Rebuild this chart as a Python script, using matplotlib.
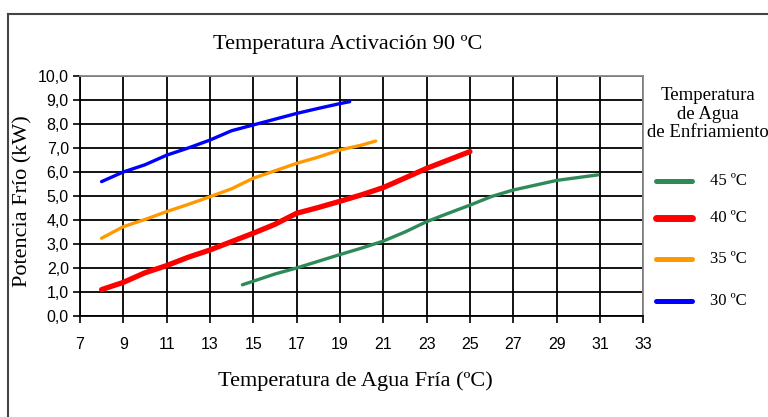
import matplotlib
matplotlib.use("Agg")
import matplotlib.pyplot as plt
from matplotlib.lines import Line2D

# ---- data ----
x_30 = [8, 9, 10, 11, 12, 13, 14, 15, 16, 17, 18, 19, 19.45]
y_30 = [5.6, 6.0, 6.3, 6.7, 7.0, 7.33, 7.72, 7.96, 8.2, 8.44, 8.65, 8.85, 8.93]

x_35 = [8, 9, 10, 11, 12, 13, 14, 15, 16, 17, 18, 19, 20, 20.65]
y_35 = [3.24, 3.72, 4.02, 4.35, 4.65, 4.97, 5.3, 5.74, 6.05, 6.36, 6.62, 6.92, 7.12, 7.29]

x_40 = [8, 9, 10, 11, 12, 13, 14, 15, 16, 17, 18, 19, 20, 21, 22, 23, 24, 25]
y_40 = [1.1, 1.4, 1.8, 2.1, 2.45, 2.75, 3.1, 3.45, 3.82, 4.28, 4.52, 4.78, 5.05, 5.35, 5.75, 6.15, 6.5, 6.85]

x_45 = [14.5, 15, 16, 17, 18, 19, 20, 21, 22, 23, 24, 25, 26, 27, 28, 29, 30, 30.9]
y_45 = [1.3, 1.45, 1.75, 2.0, 2.28, 2.56, 2.83, 3.12, 3.5, 3.93, 4.28, 4.62, 4.98, 5.25, 5.45, 5.65, 5.77, 5.88]

series_labels = ["45 ºC", "40 ºC", "35 ºC", "30 ºC"]
x_ticks = list(range(7, 34, 2))
y_ticks = [i for i in range(0, 11)]
y_tick_labels = [f"{v},0" for v in y_ticks]

title = "Temperatura Activación 90 ºC"
xlabel = "Temperatura de Agua Fría (ºC)"
ylabel = "Potencia Frío (kW)"
legend_title = "Temperatura\nde Agua\nde Enfriamiento"

# ---- figure ----
W, H = 768, 417
fig = plt.figure(figsize=(W / 100, H / 100), dpi=100)
fig.patch.set_facecolor("white")

ax = fig.add_axes([79.9 / W, 1 - 316 / H, (643.3 - 79.9) / W, (316 - 76) / H])
ax.set_xlim(7, 33)
ax.set_ylim(0, 10)

serif = "Liberation Serif"
sans = "Liberation Sans"

l45, = ax.plot(x_45, y_45, color="#2E8B57", lw=2.4, solid_capstyle="round", zorder=3)
l40, = ax.plot(x_40, y_40, color="#FF0000", lw=3.8, solid_capstyle="round", zorder=3)
l35, = ax.plot(x_35, y_35, color="#FF9900", lw=2.4, solid_capstyle="round", zorder=3)
l30, = ax.plot(x_30, y_30, color="#0000FF", lw=2.4, solid_capstyle="round", zorder=3)

ax.set_xticks(x_ticks)
ax.set_xticklabels([str(t) for t in x_ticks], fontfamily=sans, fontsize=11.5)
ax.set_yticks(y_ticks)
ax.set_yticklabels(y_tick_labels, fontfamily=sans, fontsize=11.5)
ax.tick_params(axis="both", direction="out", length=5, width=1.2, color="black")
ax.tick_params(axis="x", pad=10)
ax.tick_params(axis="y", pad=3)

ax.grid(True, color="black", linewidth=1.3, zorder=1)
ax.set_axisbelow(True)
for s in ["left", "bottom"]:
    ax.spines[s].set_color("black")
    ax.spines[s].set_linewidth(1.3)
for s in ["top", "right"]:
    ax.spines[s].set_color("#888888")
    ax.spines[s].set_linewidth(1.3)

fig.text(348 / W, 1 - 45 / H, title, ha="center", va="center", fontfamily=serif, fontsize=16)
fig.text(355 / W, 1 - 381 / H, xlabel, ha="center", va="center", fontfamily=serif, fontsize=16)
fig.text(23 / W, 1 - 201 / H, ylabel, ha="center", va="center", rotation=90, fontfamily=serif, fontsize=16)

# legend (drawn by hand to match layout)
fig.text(708 / W, 1 - 114 / H, legend_title, ha="center", va="center", multialignment="center",
         fontfamily=serif, fontsize=13.5, linespacing=1.12)
leg_y = [181, 218, 259, 301]
handle_lw = [3.6, 5.0, 3.6, 3.6]
for line, lab, yy, lw in zip([l45, l40, l35, l30], series_labels, leg_y, handle_lw):
    fig.add_artist(Line2D([656 / W, 692 / W], [1 - yy / H, 1 - yy / H], transform=fig.transFigure,
                          color=line.get_color(), lw=lw, solid_capstyle="round"))
    fig.text(710 / W, 1 - yy / H, lab, ha="left", va="center", fontfamily=serif, fontsize=12)

# outer frame
fig.add_artist(Line2D([8 / W, 1.0], [1 - 14 / H, 1 - 14 / H], transform=fig.transFigure, color="#444444", lw=1.5))
fig.add_artist(Line2D([8 / W, 8 / W], [0, 1 - 14 / H], transform=fig.transFigure, color="#444444", lw=1.5))

fig.savefig("out.png", dpi=100)
